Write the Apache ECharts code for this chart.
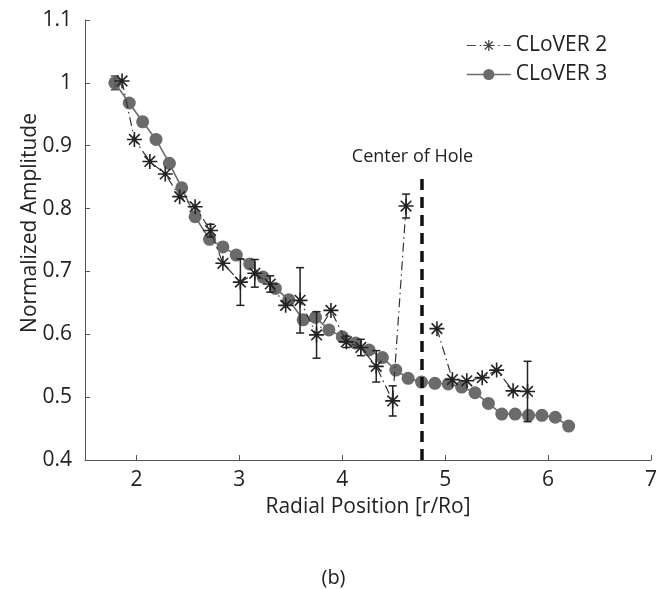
<!DOCTYPE html>
<html>
<head>
<meta charset="utf-8">
<script src="https://cdn.jsdelivr.net/npm/echarts@6/dist/echarts.min.js"></script>
<style>
html,body{margin:0;padding:0;background:#fff;}
#chart{width:667px;height:589px;}
</style>
</head>
<body>
<div id="chart"></div>
<script>
// CLoVER 2 (asterisks, dash-dot line); null = gap at the hole
const x2 = [1.86, 1.98, 2.13, 2.28, 2.42, 2.57, 2.72, 2.84, 3.01, 3.15, 3.30, 3.45, 3.59, 3.75, 3.89, 4.04, 4.18, 4.33, 4.49, 4.62, 4.77, 4.92, 5.07, 5.21, 5.36, 5.50, 5.66, 5.80];
const y2 = [1.003, 0.910, 0.875, 0.855, 0.819, 0.803, 0.765, 0.713, 0.683, 0.697, 0.680, 0.646, 0.654, 0.599, 0.638, 0.588, 0.579, 0.549, 0.494, 0.804, null, 0.609, 0.528, 0.526, 0.531, 0.543, 0.510, 0.509];
const e2 = [0, 0, 0, 0, 0, 0, 0.010, 0, 0.037, 0.022, 0.013, 0, 0.052, 0.037, 0, 0.009, 0.013, 0.025, 0.024, 0.019, 0, 0, 0, 0, 0, 0, 0, 0.048];

// CLoVER 3 (filled circles, solid line)
const x3 = [1.79, 1.93, 2.06, 2.19, 2.32, 2.44, 2.57, 2.71, 2.84, 2.97, 3.10, 3.23, 3.35, 3.48, 3.62, 3.74, 3.87, 4.00, 4.13, 4.26, 4.39, 4.52, 4.64, 4.77, 4.90, 5.03, 5.16, 5.29, 5.42, 5.55, 5.68, 5.81, 5.94, 6.07, 6.20];
const y3 = [1.000, 0.968, 0.938, 0.910, 0.872, 0.833, 0.787, 0.751, 0.739, 0.726, 0.712, 0.691, 0.673, 0.655, 0.623, 0.627, 0.607, 0.596, 0.586, 0.575, 0.563, 0.543, 0.530, 0.524, 0.522, 0.521, 0.516, 0.507, 0.490, 0.473, 0.473, 0.471, 0.471, 0.468, 0.454];
const e3 = [0.011, 0, 0, 0, 0, 0, 0, 0, 0, 0, 0, 0, 0, 0, 0, 0, 0, 0, 0, 0, 0, 0, 0, 0, 0, 0, 0, 0, 0, 0, 0, 0, 0, 0, 0];

// hole marker
const holeX = 4.77;
const holeTop = 0.85;

// tick labels
const xTicks = [2, 3, 4, 5, 6, 7];
const yTicks = [0.4, 0.5, 0.6, 0.7, 0.8, 0.9, 1.0, 1.1];

const FONT = '"Open Sans", "Noto Sans", sans-serif';
const starPath = 'path://M0,-10L0,10M-10,0L10,0M-7.07,-7.07L7.07,7.07M-7.07,7.07L7.07,-7.07';
const dashDot = [9, 4, 1.5, 4];

function errSeries(name, xs, ys, es, color) {
  const data = [];
  xs.forEach((x, i) => { if (es[i] > 0 && ys[i] != null) data.push([x, ys[i], es[i]]); });
  return {
    type: 'custom', name: name, z: 3, silent: true,
    data: data,
    encode: { x: 0, y: 1 },
    renderItem: function (params, api) {
      const x = api.value(0), y = api.value(1), e = api.value(2);
      const t = api.coord([x, y + e]);
      const b = api.coord([x, y - e]);
      const hw = 4;
      const st = { stroke: color, lineWidth: 1.5 };
      return {
        type: 'group',
        children: [
          { type: 'line', shape: { x1: t[0], y1: t[1], x2: b[0], y2: b[1] }, style: st },
          { type: 'line', shape: { x1: t[0] - hw, y1: t[1], x2: t[0] + hw, y2: t[1] }, style: st },
          { type: 'line', shape: { x1: b[0] - hw, y1: b[1], x2: b[0] + hw, y2: b[1] }, style: st }
        ]
      };
    }
  };
}

const chart = echarts.init(document.getElementById('chart'), null, { renderer: 'canvas' });
chart.setOption({
  animation: false,
  backgroundColor: '#fff',
  textStyle: { fontFamily: FONT },
  grid: { left: 85, right: 16, top: 20, bottom: 129 },
  title: {
    text: '(b)', left: 'center', top: 563,
    textStyle: { fontFamily: FONT, fontSize: 20, fontWeight: 'normal', color: '#222' }
  },
  legend: {
    data: [
      { name: 'CLoVER 2', lineStyle: { color: '#444', width: 1, type: dashDot }, itemStyle: { color: '#444', borderColor: '#444', borderWidth: 1.2 } },
      { name: 'CLoVER 3', lineStyle: { color: '#6b6b6b', width: 1.5 } }
    ],
    orient: 'vertical', left: 461, top: 30,
    itemWidth: 44, itemHeight: 14, itemGap: 8,
    textStyle: { fontFamily: FONT, fontSize: 21, color: '#222' }
  },
  xAxis: {
    type: 'value', min: 1.5, max: 7,
    name: 'Radial Position [r/Ro]', nameLocation: 'middle', nameGap: 37,
    nameMoveOverlap: false,
    nameTextStyle: { fontFamily: FONT, fontSize: 21, color: '#222' },
    axisLine: { show: true, lineStyle: { color: '#555', width: 1 } },
    axisTick: { show: true, inside: true, length: 5, customValues: xTicks, lineStyle: { color: '#555' } },
    axisLabel: { customValues: xTicks, fontFamily: FONT, fontSize: 21, color: '#222', margin: 10 },
    splitLine: { show: false }
  },
  yAxis: {
    type: 'value', min: 0.4, max: 1.1,
    name: 'Normalized Amplitude', nameLocation: 'middle', nameGap: 44,
    nameMoveOverlap: false,
    nameTextStyle: { fontFamily: FONT, fontSize: 21, color: '#222', padding: [0, 0, 0, 34] },
    axisLine: { show: true, lineStyle: { color: '#555', width: 1 } },
    axisTick: { show: true, inside: true, length: 5, customValues: yTicks, lineStyle: { color: '#555' } },
    axisLabel: {
      customValues: yTicks, fontFamily: FONT, fontSize: 21, color: '#222', margin: 13,
      formatter: v => String(Math.round(v * 10) / 10)
    },
    splitLine: { show: false }
  },
  series: [
    {
      type: 'line', name: 'CLoVER 3', z: 2,
      data: x3.map((x, i) => [x, y3[i]]),
      symbol: 'circle', symbolSize: 13,
      itemStyle: { color: '#6b6b6b' },
      lineStyle: { color: '#6b6b6b', width: 1.6 }
    },
    errSeries('err3', x3, y3, e3, '#555'),
    {
      type: 'line', name: 'CLoVER 2', z: 4,
      data: x2.map((x, i) => [x, y2[i] == null ? '-' : y2[i]]),
      connectNulls: false,
      symbol: starPath, symbolSize: 15,
      itemStyle: { color: '#222', borderColor: '#222', borderWidth: 1.6 },
      lineStyle: { color: '#333', width: 1.2, type: dashDot },
      markLine: {
        silent: true, symbol: 'none', animation: false,
        lineStyle: { color: '#111', width: 3.5, type: [11, 7] },
        label: {
          show: true, position: 'end', formatter: 'Center of Hole',
          fontFamily: FONT, fontSize: 18, color: '#222', distance: 11, offset: [-9, 0]
        },
        data: [[{ coord: [holeX, 0.4] }, { coord: [holeX, holeTop] }]]
      }
    },
    errSeries('err2', x2, y2, e2, '#222')
  ]
});
</script>
</body>
</html>
